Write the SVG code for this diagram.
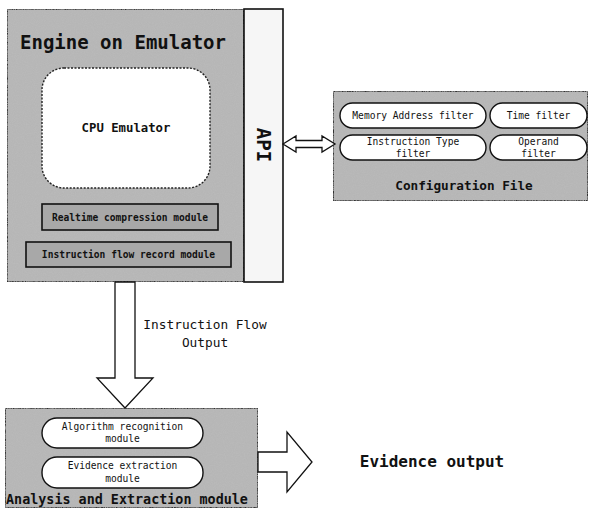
<svg xmlns="http://www.w3.org/2000/svg" width="596" height="514" viewBox="0 0 596 514">
<defs>
<filter id="grain" x="0" y="0" width="100%" height="100%">
<feTurbulence type="fractalNoise" baseFrequency="0.9" numOctaves="2" seed="3" result="n"/>
<feColorMatrix in="n" type="matrix" values="0 0 0 0 0.5  0 0 0 0 0.5  0 0 0 0 0.5  0 0 0 1.2 -0.35" result="g"/>
<feComposite in="g" in2="SourceGraphic" operator="in" result="gg"/>
<feMerge><feMergeNode in="SourceGraphic"/><feMergeNode in="gg"/></feMerge>
</filter>
<style>
.gray{fill:#b6b6b6;stroke:#111;stroke-width:1.6}
.box{fill:#a8a8a8;stroke:#111;stroke-width:1.6}
.pill{fill:#fff;stroke:#111;stroke-width:1.4}
.arrow{fill:#fff;stroke:#111;stroke-width:1.3;stroke-linejoin:miter}
text{font-family:"DejaVu Sans Mono","Liberation Mono",monospace;fill:#111}
.b{font-weight:bold}
.s{font-size:9.6px}
</style>
</defs>
<g id="engine">
<rect x="7" y="9" width="237" height="273" class="gray" filter="url(#grain)"/>
<text x="123" y="49" text-anchor="middle" class="b" font-size="19">Engine on Emulator</text>
</g>
<g id="api">
<rect x="244" y="9" width="39" height="273" fill="#f6f6f6" stroke="#111" stroke-width="1.6"/>
<text transform="translate(257,145) rotate(90)" text-anchor="middle" class="b" font-size="19">API</text>
</g>
<g id="cpu">
<rect x="42" y="68" width="168" height="120" rx="22" fill="#fff" stroke="#222" stroke-width="1.4" stroke-dasharray="2 1.5"/>
<text x="126" y="132" text-anchor="middle" class="b" font-size="12.3">CPU Emulator</text>
</g>
<g id="realtime">
<rect x="42" y="204" width="176" height="26" class="box"/>
<text x="130" y="220.5" text-anchor="middle" class="b s">Realtime compression module</text>
</g>
<g id="record">
<rect x="26" y="242" width="205" height="25" class="box"/>
<text x="128.5" y="258" text-anchor="middle" class="b s">Instruction flow record module</text>
</g>
<g id="config">
<rect x="333" y="91" width="255" height="110" class="gray" filter="url(#grain)"/>
<rect x="340" y="103" width="146" height="25" rx="12.5" class="pill"/>
<text x="413" y="119" text-anchor="middle" class="s">Memory Address filter</text>
<rect x="490" y="103" width="97" height="25" rx="12.5" class="pill"/>
<text x="538.5" y="119" text-anchor="middle" class="s">Time filter</text>
<rect x="340" y="135" width="146" height="25" rx="12.5" class="pill"/>
<text x="413" y="145" text-anchor="middle" class="s">Instruction Type</text>
<text x="413" y="157" text-anchor="middle" class="s">filter</text>
<rect x="490" y="135" width="97" height="25" rx="12.5" class="pill"/>
<text x="538.5" y="145" text-anchor="middle" class="s">Operand</text>
<text x="538.5" y="157" text-anchor="middle" class="s">filter</text>
<text x="464" y="190" text-anchor="middle" class="b" font-size="12.7">Configuration File</text>
</g>
<g id="analysis">
<rect x="5" y="408" width="253" height="100" class="gray" filter="url(#grain)"/>
<rect x="42" y="418" width="161" height="30" rx="15" class="pill"/>
<text x="122.5" y="430" text-anchor="middle" class="s">Algorithm recognition</text>
<text x="122.5" y="442" text-anchor="middle" class="s">module</text>
<rect x="42" y="457" width="161" height="31" rx="15" class="pill"/>
<text x="122.5" y="469" text-anchor="middle" class="s">Evidence extraction</text>
<text x="122.5" y="482" text-anchor="middle" class="s">module</text>
<text x="127" y="504" text-anchor="middle" class="b" font-size="13.4">Analysis and Extraction module</text>
</g>
<g id="evidence">
<text x="432" y="467" text-anchor="middle" class="b" font-size="16">Evidence output</text>
</g>
<g id="connectors">
<path class="arrow" d="M283,144 L296,136 L296,140.5 L322,140.5 L322,136 L335,144 L322,152 L322,147.5 L296,147.5 L296,152 Z"/>
<path class="arrow" d="M115,282 L135,282 L135,378 L153,378 L125,408 L97,378 L115,378 Z"/>
<text x="205" y="329" text-anchor="middle" font-size="12.8">Instruction Flow</text>
<text x="205" y="347" text-anchor="middle" font-size="12.8">Output</text>
<path class="arrow" d="M258,452 L287,452 L287,432 L312,462 L287,492 L287,472 L258,472 Z"/>
</g>
</svg>
